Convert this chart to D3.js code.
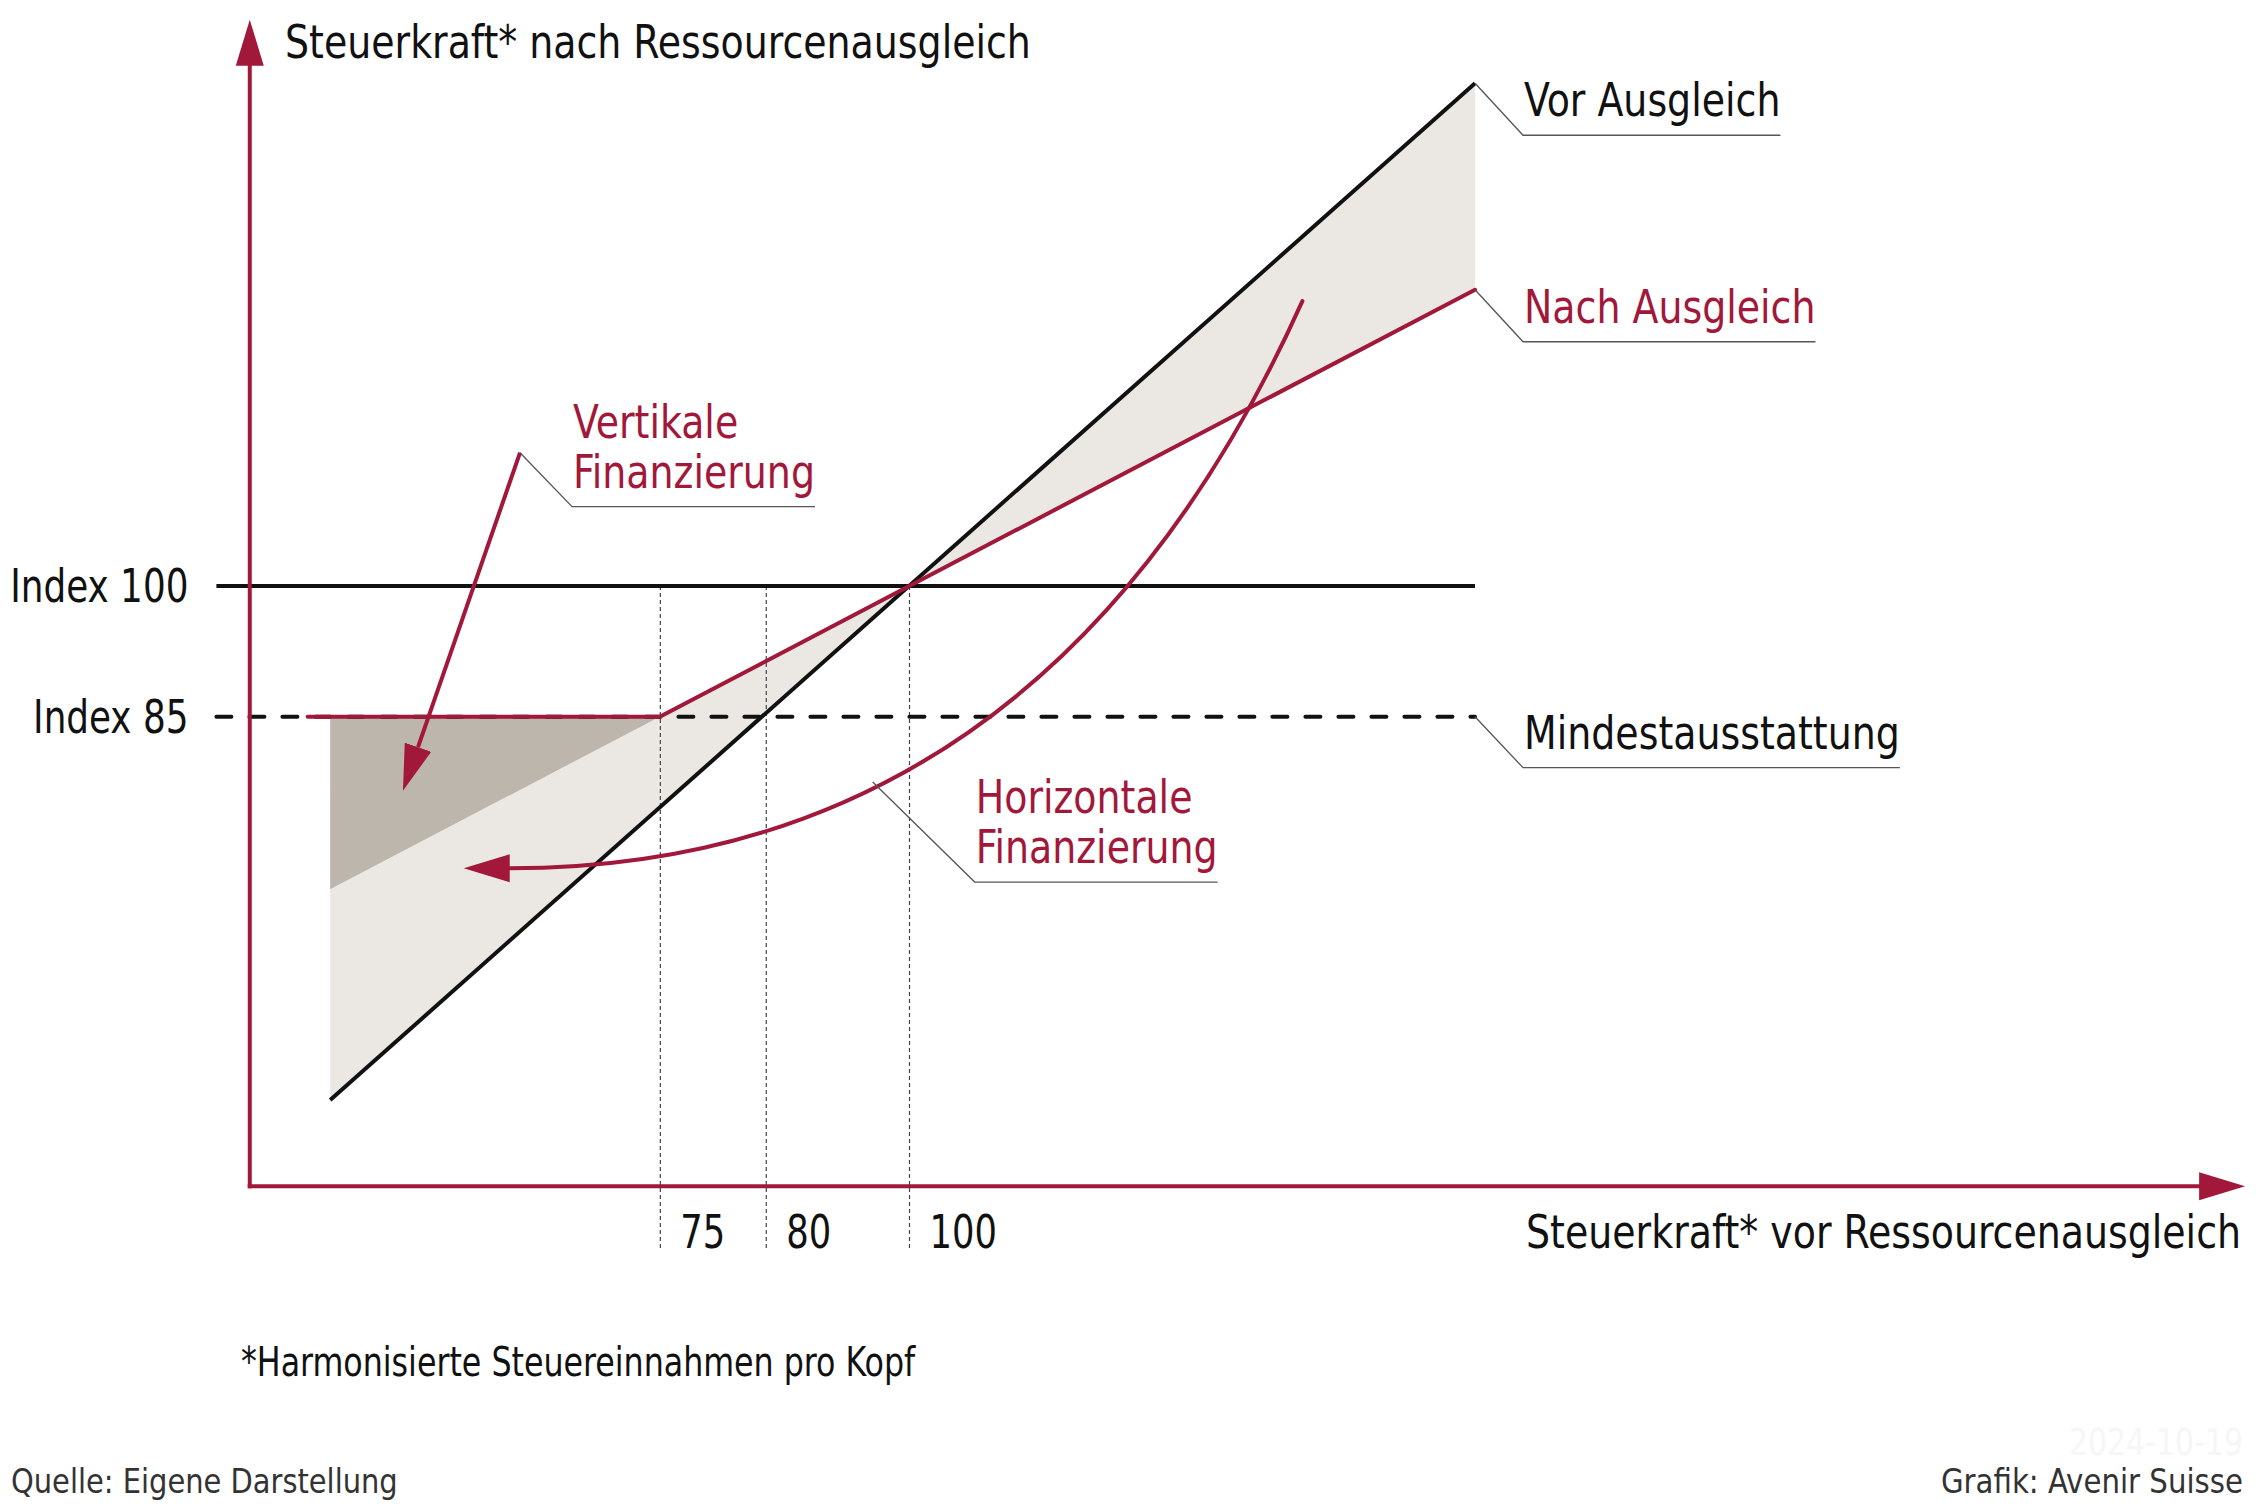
<!DOCTYPE html>
<html>
<head>
<meta charset="utf-8">
<script src="https://cdn.jsdelivr.net/npm/d3@7"></script>
<style>
  body { margin: 0; background: #fff; }
  text { font-family: "Liberation Sans Narrow", "DejaVu Sans Condensed", sans-serif; }
</style>
</head>
<body>
<script>
// values in index units: x = tax capacity before, y = tax capacity after equalisation
const vorX = [41, 157.7];
const vorY = [41, 157.7];
const nachX = [38.7, 74.6, 157.7];
const nachY = [85, 85, 134];

// shaded band between the two lines, and the gap topped up to index 85
const bandX = [41, 100, 157.7];
const bandVor = [41, 100, 157.7];
const bandNach = [65.2, 100, 134];
const gapX = [41, 74.6];
const gapTop = [85, 85];
const gapBottom = [65.2, 85];

const indexLevels = [100, 85];
const indexLabels = ["Index 100", "Index 85"];
const indexFrom = 29.4, indexTo = 157.7;

const xTicks = [74.6, 85.4, 100];
const xTickLabels = ["75", "80", "100"];
const tickBottom = 23.7;

const axisX = [32.8, 236.2];
const axisY = [31.1, 165];

// arrows: straight one (start, end) and curved one (start, control, end)
const vertArrowX = [60.35, 49.95];
const vertArrowY = [115.3, 81.5];
const horizArrowX = [140.1, 114.1, 59.3];
const horizArrowY = [132.7, 67.6, 67.6];

// callouts
const calloutText = [["Vor Ausgleich"], ["Nach Ausgleich"], ["Mindestausstattung"],
                     ["Vertikale", "Finanzierung"], ["Horizontale", "Finanzierung"]];
const calloutX = [157.7, 157.7, 157.7, 60.35, 96.3];
const calloutY = [157.7, 134, 85, 115.3, 77.5];
const calloutRed = [false, true, false, true, true];

const W = 2256, H = 1504;
const red = "#a2183a", ink = "#111";
const fs = 46.8;

// squeeze a text horizontally to look like the narrow face of the original
function narrow(sel, k) {
    sel.each(function() {
        const t = d3.select(this);
        const tx = +t.attr("x") || 0, ty = +t.attr("y") || 0;
        t.attr("x", 0).attr("y", 0)
         .attr("transform", `translate(${tx},${ty}) scale(${k},1)`);
    });
    return sel;
}

const svg = d3.select("body").append("svg")
    .attr("width", W)
    .attr("height", H);

const x = d3.scaleLinear().domain([100, 200]).range([909, 1890]);
const y = d3.scaleLinear().domain([85, 100]).range([716.7, 586]);

const defs = svg.append("defs");
defs.append("marker")
    .attr("id", "head")
    .attr("markerUnits", "userSpaceOnUse")
    .attr("viewBox", "0 -15 48 30")
    .attr("markerWidth", 48)
    .attr("markerHeight", 30)
    .attr("refX", 0)
    .attr("refY", 0)
    .attr("orient", "auto")
  .append("path")
    .attr("d", "M0,-14L46,0L0,14Z")
    .attr("fill", red);

//Fills
svg.append("path")
    .datum(d3.range(bandX.length))
    .attr("fill", "#ebe8e4")
    .attr("d", d3.area().x(i => x(bandX[i])).y0(i => y(bandVor[i])).y1(i => y(bandNach[i])));

svg.append("path")
    .datum(d3.range(gapX.length))
    .attr("fill", "#bdb6ac")
    .attr("d", d3.area().x(i => x(gapX[i])).y0(i => y(gapTop[i])).y1(i => y(gapBottom[i])));

//X ticks (dotted guides from index 100 down below the axis)
const xAxis = d3.axisBottom(x)
    .tickValues(xTicks)
    .tickFormat((d, i) => xTickLabels[i])
    .tickSizeInner(y(tickBottom) - y(100))
    .tickSizeOuter(0);

const gx = svg.append("g")
    .attr("transform", `translate(0,${y(100)})`)
    .call(xAxis);
gx.select(".domain").remove();
gx.selectAll(".tick line")
    .attr("stroke", "#444")
    .attr("stroke-width", 1.2)
    .attr("stroke-dasharray", "4,3");
gx.selectAll(".tick text")
    .attr("x", 20)
    .attr("y", y(axisY[0]) - y(100) + 61.5)
    .attr("dy", null)
    .attr("text-anchor", "start")
    .attr("fill", ink)
    .style("font-size", fs + "px")
    .call(narrow, 0.84);

//Y labels
const yAxis = d3.axisLeft(y)
    .tickValues(indexLevels)
    .tickFormat((d, i) => indexLabels[i])
    .tickSize(0)
    .tickPadding(28);
const gy = svg.append("g")
    .attr("transform", `translate(${x(indexFrom)},0)`)
    .call(yAxis);
gy.select(".domain").remove();
gy.selectAll(".tick text")
    .attr("dy", "0.33em")
    .attr("fill", ink)
    .style("font-size", fs + "px")
    .call(narrow, 0.85);

//Index lines
const seg = d3.line().x(d => x(d[0])).y(d => y(d[1]));
indexLevels.forEach((lv, i) => {
    svg.append("path")
        .attr("d", seg([[indexFrom, lv], [indexTo, lv]]))
        .attr("fill", "none")
        .attr("stroke", ink)
        .attr("stroke-width", 4)
        .attr("stroke-dasharray", i ? "15,18" : null)
        .attr("stroke-linecap", i ? "round" : "butt");
});

//Vor / Nach lines
svg.append("path")
    .attr("d", seg(vorX.map((d, i) => [d, vorY[i]])))
    .attr("fill", "none")
    .attr("stroke", ink)
    .attr("stroke-width", 4);

svg.append("path")
    .attr("d", seg(nachX.map((d, i) => [d, nachY[i]])))
    .attr("fill", "none")
    .attr("stroke", red)
    .attr("stroke-width", 4)
    .attr("stroke-linecap", "round");

//Axes with arrowheads
const ox = x(axisX[0]), oy = y(axisY[0]);
svg.append("path")
    .attr("d", `M${ox},${oy}H${x(axisX[1]) - 46}`)
    .attr("stroke", red)
    .attr("stroke-width", 4)
    .attr("stroke-linecap", "square")
    .attr("marker-end", "url(#head)");
svg.append("path")
    .attr("d", `M${ox},${oy}V${y(axisY[1]) + 46}`)
    .attr("stroke", red)
    .attr("stroke-width", 4)
    .attr("stroke-linecap", "square")
    .attr("marker-end", "url(#head)");

//Financing arrows
svg.append("path")
    .attr("d", seg(vertArrowX.map((d, i) => [d, vertArrowY[i]])))
    .attr("fill", "none")
    .attr("stroke", red)
    .attr("stroke-width", 4)
    .attr("marker-end", "url(#head)");

const hp = d3.path();
hp.moveTo(x(horizArrowX[0]), y(horizArrowY[0]));
hp.quadraticCurveTo(x(horizArrowX[1]), y(horizArrowY[1]), x(horizArrowX[2]), y(horizArrowY[2]));
svg.append("path")
    .attr("d", hp.toString())
    .attr("fill", "none")
    .attr("stroke", red)
    .attr("stroke-width", 4)
    .attr("stroke-linecap", "round")
    .attr("marker-end", "url(#head)");

//Callouts
const leaderDx = [48, 48, 48, 52, 102];
const leaderDy = [52, 52, 51, 54, 100];
calloutText.forEach((lines, i) => {
    const ax = x(calloutX[i]), ay = y(calloutY[i]);
    const kx = ax + leaderDx[i], ky = ay + leaderDy[i];
    const g = svg.append("g");
    let right = kx;
    lines.forEach((t, j) => {
        const txt = g.append("text")
            .attr("x", kx + 1)
            .attr("y", ky - 19 - (lines.length - 1 - j) * 50)
            .attr("fill", calloutRed[i] ? red : ink)
            .style("font-size", fs + "px")
            .text(t)
            .call(narrow, 0.9);
        right = Math.max(right, kx + 1 + txt.node().getComputedTextLength() * 0.9);
    });
    g.append("path")
        .attr("d", `M${ax},${ay}L${kx},${ky}H${right}`)
        .attr("fill", "none")
        .attr("stroke", "#555")
        .attr("stroke-width", 1.3);
});

//Titles and notes
svg.append("text")
    .attr("x", 285).attr("y", 57.5)
    .attr("fill", ink)
    .style("font-size", fs + "px")
    .text("Steuerkraft* nach Ressourcenausgleich")
    .call(narrow, 0.9);

svg.append("text")
    .attr("x", 2241).attr("y", 1248)
    .attr("text-anchor", "end")
    .attr("fill", ink)
    .style("font-size", fs + "px")
    .text("Steuerkraft* vor Ressourcenausgleich")
    .call(narrow, 0.9);

svg.append("text")
    .attr("x", 241).attr("y", 1375.5)
    .attr("fill", ink)
    .style("font-size", "40.5px")
    .text("*Harmonisierte Steuereinnahmen pro Kopf")
    .call(narrow, 0.87);

svg.append("text")
    .attr("x", 2243).attr("y", 1455)
    .attr("text-anchor", "end")
    .attr("fill", "#f6f6f6")
    .style("font-size", "37px")
    .text("2024-10-19")
    .call(narrow, 0.9);

svg.append("text")
    .attr("x", 11).attr("y", 1493)
    .attr("fill", "#333")
    .style("font-size", "33.5px")
    .text("Quelle: Eigene Darstellung")
    .call(narrow, 0.96);

svg.append("text")
    .attr("x", 2243).attr("y", 1493)
    .attr("text-anchor", "end")
    .attr("fill", "#333")
    .style("font-size", "33.5px")
    .text("Grafik: Avenir Suisse")
    .call(narrow, 0.97);
</script>
</body>
</html>
